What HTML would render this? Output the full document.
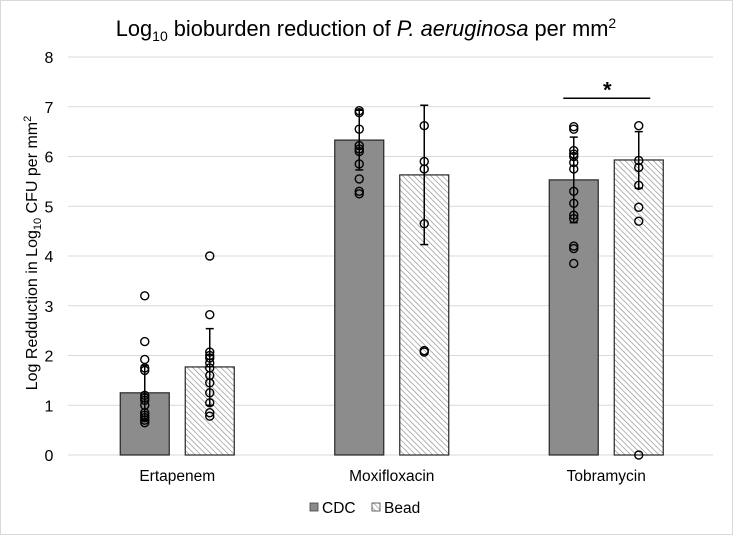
<!DOCTYPE html>
<html><head><meta charset="utf-8"><style>
html,body{margin:0;padding:0;background:#fff;}
svg{display:block;font-family:"Liberation Sans",Arial,sans-serif;}
</style></head><body>
<svg id="chart" width="733" height="535" viewBox="0 0 733 535">
<defs>
<pattern id="hatch" patternUnits="userSpaceOnUse" width="4" height="4" patternTransform="rotate(-45)">
<rect width="4" height="4" fill="#fff"/>
<line x1="0" y1="0" x2="0" y2="4" stroke="#8a8a8a" stroke-width="1.3"/>
</pattern>
</defs>
<rect x="0.5" y="0.5" width="732" height="534" fill="#fff" stroke="#d9d9d9"/>
<text x="366" y="36" text-anchor="middle" font-size="21.8" fill="#000">Log<tspan font-size="14" dy="5">10</tspan><tspan dy="-5"> bioburden reduction of </tspan><tspan font-style="italic">P. aeruginosa</tspan> per mm<tspan font-size="14" dy="-8">2</tspan></text>
<text transform="translate(37,253) rotate(-90)" text-anchor="middle" font-size="16" fill="#000">Log Redduction in Log<tspan font-size="11" dy="4">10</tspan><tspan dy="-4"> CFU per mm</tspan><tspan font-size="11" dy="-6">2</tspan></text>
<g id="grid"></g>
<g id="marks"></g>
<g id="legend">
<rect x="310" y="503" width="8" height="8" fill="#8c8c8c" stroke="#404040" stroke-width="0.8"/>
<text x="322" y="513" font-size="15.5" fill="#000">CDC</text>
<rect x="372" y="503" width="8" height="8" fill="url(#hatch)" stroke="#404040" stroke-width="0.8"/>
<text x="384" y="513" font-size="15.5" fill="#000">Bead</text>
</g>
</svg>
<script>
const categories = ["Ertapenem","Moxifloxacin","Tobramycin"];
const cdcMeans = [1.25, 6.33, 5.53];
const beadMeans = [1.77, 5.63, 5.93];
const cdcErr = [0.55, 0.6, 0.86];
const beadErr = [0.77, 1.4, 0.57];
const yTicks = [0,1,2,3,4,5,6,7,8];
const cdcPoints = [
 [3.2,2.28,1.92,1.75,1.7,1.2,1.15,1.1,1.0,0.85,0.8,0.75,0.7,0.65],
 [6.92,6.88,6.55,6.22,6.15,6.1,5.85,5.55,5.3,5.25],
 [6.6,6.55,6.12,6.05,6.0,5.88,5.75,5.3,5.06,4.82,4.75,4.2,4.15,3.85]
];
const beadPoints = [
 [4.0,2.82,2.07,2.0,1.95,1.85,1.75,1.6,1.45,1.25,1.05,0.85,0.78],
 [6.62,5.9,5.75,4.65,2.1,2.07],
 [6.62,5.92,5.78,5.42,4.98,4.7,0]
];
const sigCategory = 2;
const sigLevel = 7.17;

const NS="http://www.w3.org/2000/svg";
const y0=455, yTop=57, yMax=8;
const yS = v => y0 - (v/yMax)*(y0-yTop);
const bandL=70, bandW=214.5;
const xC = i => bandL + bandW*(i+0.5);
const barW=49, off=32.5;
function mk(tag, attrs, parent){const e=document.createElementNS(NS,tag);for(const k in attrs)e.setAttribute(k,attrs[k]);parent.appendChild(e);return e;}
const grid=document.getElementById('grid'), marks=document.getElementById('marks');
yTicks.forEach(t=>{
 const l=mk('line',{x1:68,x2:713,y1:yS(t),y2:yS(t),stroke:'#d9d9d9','stroke-width':1},grid);
 
 
 const tx=mk('text',{x:49,y:yS(t)+6,'text-anchor':'middle','font-size':16,fill:'#000'},grid);
 tx.textContent=t;
 
 
});
categories.forEach((c,i)=>{
 const tx=mk('text',{x:xC(i),y:481,'text-anchor':'middle','font-size':15.5,fill:'#000'},grid);
 tx.textContent=c;
 
 
 [[cdcMeans,cdcErr,cdcPoints,-off,'#8c8c8c','cdc'],[beadMeans,beadErr,beadPoints,off,'url(#hatch)','bead']].forEach(([m,e,p,o,fill,nm])=>{
  const cx=xC(i)+o;
  const r=mk('rect',{x:cx-barW/2,y:yS(m[i]),width:barW,height:y0-yS(m[i]),fill:fill,stroke:'#262626','stroke-width':1.2},marks);
  
  
  const g=mk('g',{stroke:'#000','stroke-width':1.5},marks);
  
  
  const hi=yS(m[i]+e[i]), lo=yS(Math.max(0,m[i]-e[i]));
  mk('line',{x1:cx,x2:cx,y1:hi,y2:lo},g);
  mk('line',{x1:cx-4,x2:cx+4,y1:hi,y2:hi},g);
  mk('line',{x1:cx-4,x2:cx+4,y1:lo,y2:lo},g);
  p[i].forEach((v,k)=>{
   const ci=mk('circle',{cx:cx,cy:yS(v),r:4,fill:'none',stroke:'#000','stroke-width':1.4},marks);
   
   
  });
 });
});
const sl=mk('line',{x1:xC(sigCategory)-43,x2:xC(sigCategory)+44,y1:yS(sigLevel),y2:yS(sigLevel),stroke:'#000','stroke-width':1.5},marks);


const st=mk('text',{x:xC(sigCategory)+1,y:yS(sigLevel)-1,'text-anchor':'middle','font-size':22,'font-weight':'bold',fill:'#000'},marks);
st.textContent='*';


</script>
</body></html>
